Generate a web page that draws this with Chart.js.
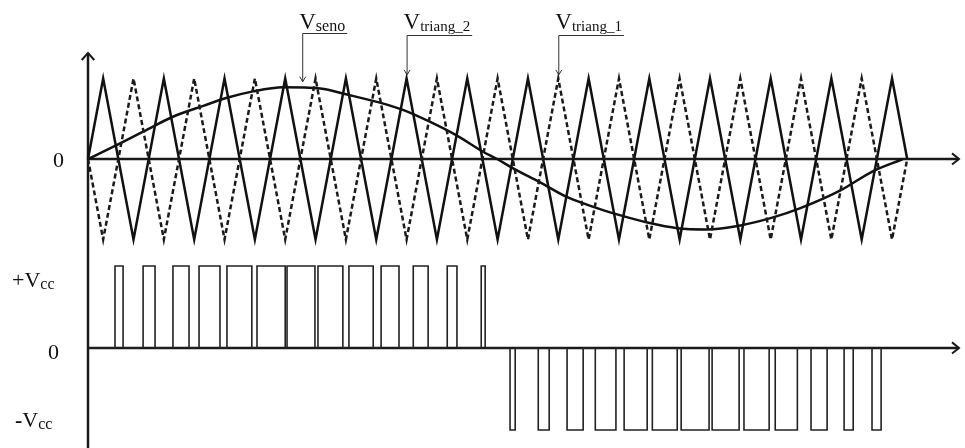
<!DOCTYPE html>
<html>
<head>
<meta charset="utf-8">
<script src="https://cdn.jsdelivr.net/npm/chart.js@4/dist/chart.umd.min.js"></script>
<style>
  html, body { margin: 0; padding: 0; background: #fff; }
  canvas { display: block; }
</style>
</head>
<body>
<canvas id="pwm" width="965" height="448"></canvas>
<script>
// Time axis is measured in carrier periods.

// Carrier vertices (both carriers share the same time instants)
const carrierT = [0, 0.25, 0.75, 1.25, 1.75, 2.25, 2.75, 3.25, 3.75, 4.25, 4.75, 5.25, 5.75, 6.25, 6.75,
                  7.25, 7.75, 8.25, 8.75, 9.25, 9.75, 10.25, 10.75, 11.25, 11.75, 12.25, 12.75, 13.25, 13.5];
// V_triang_2 (solid carrier)
const triang2 = [0, 1, -1, 1, -1, 1, -1, 1, -1, 1, -1, 1, -1, 1, -1,
                 1, -1, 1, -1, 1, -1, 1, -1, 1, -1, 1, -1, 1, 0];
// V_triang_1 (dotted carrier, opposite phase)
const triang1 = [0, -1, 1, -1, 1, -1, 1, -1, 1, -1, 1, -1, 1, -1, 1,
                 -1, 1, -1, 1, -1, 1, -1, 1, -1, 1, -1, 1, -1, 0];

// V_seno (reference wave)
const sineT = [0, 0.48, 0.91, 1.40, 1.90, 2.29, 2.72, 3.22, 3.83, 4.27, 4.81, 5.19, 5.64, 6.08, 6.51,
               6.74, 6.99, 7.45, 7.90, 8.39, 8.82, 9.22, 9.71, 10.20, 10.75, 11.29, 11.74, 12.40, 12.94, 13.43];
const sineV = [0, 0.175, 0.34, 0.525, 0.66, 0.76, 0.84, 0.89, 0.875, 0.80, 0.70, 0.61, 0.46, 0.29, 0.09,
               0, -0.11, -0.29, -0.475, -0.61, -0.71, -0.79, -0.86, -0.875, -0.825, -0.725, -0.61, -0.39, -0.15, 0];

// Output pulses: switching instants
const posOn  = [0.445, 0.908, 1.40, 1.83, 2.29, 2.785, 3.28, 3.79, 4.30, 4.83, 5.36, 5.92, 6.48];
const posOff = [0.578, 1.105, 1.665, 2.175, 2.70, 3.25, 3.74, 4.20, 4.70, 5.125, 5.605, 6.08, 6.545];
const negOn  = [6.955, 7.42, 7.895, 8.36, 8.835, 9.30, 9.775, 10.285, 10.81, 11.325, 11.915, 12.46, 12.92];
const negOff = [7.04, 7.60, 8.16, 8.70, 9.215, 9.71, 10.235, 10.73, 11.225, 11.69, 12.18, 12.61, 13.07];
const VCC = 1;

// Left-hand level labels
const topLevels = [{ value: 0, sign: '', main: '0', sub: '' }];
const botLevels = [
  { value: VCC,  sign: '+', main: 'V', sub: 'cc' },
  { value: 0,    sign: '',  main: '0', sub: '' },
  { value: -VCC, sign: '-', main: 'V', sub: 'cc' }
];

// Callouts above the waveforms
const callouts = [
  { main: 'V', sub: 'seno',     t: 3.53, tip: 0.96 },
  { main: 'V', sub: 'triang_2', t: 5.25, tip: 1.045 },
  { main: 'V', sub: 'triang_1', t: 7.75, tip: 1.045 }
];

const zip = (xs, ys) => xs.map((x, i) => ({ x, y: ys[i] }));

function pulseTrain() {
  const pts = [{ x: 0, y: 0 }];
  posOn.forEach((t, i) => {
    pts.push({ x: t, y: 0 }, { x: t, y: VCC }, { x: posOff[i], y: VCC }, { x: posOff[i], y: 0 });
  });
  negOn.forEach((t, i) => {
    pts.push({ x: t, y: 0 }, { x: t, y: -VCC }, { x: negOff[i], y: -VCC }, { x: negOff[i], y: 0 });
  });
  return pts;
}

const SERIF = '"Liberation Serif", "Times New Roman", serif';

// Draws [sign]main_sub; returns total width
function drawSubText(ctx, sign, main, sub, x, baseline, mainSize, subSize, drop, align) {
  ctx.font = 'bold ' + mainSize + 'px ' + SERIF;
  const wSign = sign === '-' ? ctx.measureText(sign).width : 0;
  ctx.font = mainSize + 'px ' + SERIF;
  const wPlus = sign === '+' ? ctx.measureText(sign).width : 0;
  const wMain = ctx.measureText(main).width;
  ctx.font = subSize + 'px ' + SERIF;
  const wSub = sub ? ctx.measureText(sub).width : 0;
  const total = wSign + wPlus + wMain + wSub;
  let left = align === 'right' ? x - total : x;
  ctx.textAlign = 'left';
  ctx.textBaseline = 'alphabetic';
  if (sign === '-') {
    ctx.font = 'bold ' + mainSize + 'px ' + SERIF;
    ctx.fillText(sign, left, baseline);
    left += wSign;
  } else if (sign === '+') {
    ctx.font = mainSize + 'px ' + SERIF;
    ctx.fillText(sign, left, baseline);
    left += wPlus;
  }
  ctx.font = mainSize + 'px ' + SERIF;
  ctx.fillText(main, left, baseline);
  if (sub) {
    ctx.font = subSize + 'px ' + SERIF;
    ctx.fillText(sub, left + wMain, baseline + drop);
  }
  return total;
}

function arrowHead(ctx, x, y, dir, size) {
  ctx.beginPath();
  if (dir === 'up') {
    ctx.moveTo(x - size * 0.9, y + size); ctx.lineTo(x, y); ctx.lineTo(x + size * 0.9, y + size);
  } else if (dir === 'down') {
    ctx.moveTo(x - size * 0.6, y - size); ctx.lineTo(x, y); ctx.lineTo(x + size * 0.6, y - size);
  } else {
    ctx.moveTo(x - size, y - size * 0.8); ctx.lineTo(x, y); ctx.lineTo(x - size, y + size * 0.8);
  }
  ctx.stroke();
}

const axesPlugin = {
  id: 'pwmAxes',
  beforeDatasetsDraw(chart) {
    const { ctx, scales } = chart;
    const x0 = scales.x.getPixelForValue(0);
    const xEnd = scales.x.right - 1;
    const yTop0 = scales.yTop.getPixelForValue(0);
    const yBot0 = scales.yBot.getPixelForValue(0);
    ctx.save();
    ctx.strokeStyle = '#1a1a1a';
    ctx.lineWidth = 2.5;
    ctx.lineCap = 'butt';
    // vertical axis
    ctx.beginPath();
    ctx.moveTo(x0, 53); ctx.lineTo(x0, chart.height);
    ctx.stroke();
    // horizontal axes
    [yTop0, yBot0].forEach(y => {
      ctx.beginPath(); ctx.moveTo(x0, y); ctx.lineTo(xEnd, y); ctx.stroke();
    });
    ctx.lineWidth = 2;
    ctx.lineJoin = 'miter';
    arrowHead(ctx, x0, 53, 'up', 7);
    arrowHead(ctx, xEnd, yTop0, 'right', 7);
    arrowHead(ctx, xEnd, yBot0, 'right', 7);
    ctx.restore();
  },
  afterDraw(chart) {
    const { ctx, scales } = chart;
    ctx.save();
    ctx.fillStyle = '#111';
    // level labels
    topLevels.forEach(l => {
      const y = scales.yTop.getPixelForValue(l.value);
      drawSubText(ctx, l.sign, l.main, l.sub, 64, y + 8, 22, 16, 2, 'right');
    });
    botLevels.forEach(l => {
      const y = scales.yBot.getPixelForValue(l.value);
      const base = l.value === 0 ? y + 11 : (l.value > 0 ? y + 21 : y - 3);
      const x = l.value === 0 ? 59 : (l.value > 0 ? 12 : 15);
      drawSubText(ctx, l.sign, l.main, l.sub, x, base, 22, 16, 2, l.value === 0 ? 'right' : 'left');
    });
    // callouts
    callouts.forEach(c => {
      const x = scales.x.getPixelForValue(c.t);
      const tipY = scales.yTop.getPixelForValue(c.tip);
      const lineY = c.sub === 'seno' ? 33 : 35;
      ctx.fillStyle = '#111';
      const w = drawSubText(ctx, '', c.main, c.sub, x - 3, 29, 23, c.sub === 'seno' ? 16 : 15, 2, 'left');
      ctx.strokeStyle = '#333';
      ctx.lineWidth = 1;
      ctx.beginPath();
      ctx.moveTo(x + 0.5, tipY); ctx.lineTo(x + 0.5, lineY + 0.5); ctx.lineTo(x - 3 + w + 2, lineY + 0.5);
      ctx.stroke();
      arrowHead(ctx, x + 0.5, tipY, 'down', 5);
    });
    ctx.restore();
  }
};

new Chart(document.getElementById('pwm'), {
  type: 'line',
  data: {
    datasets: [
      {
        label: 'V_triang_1',
        data: zip(carrierT, triang1),
        yAxisID: 'yTop',
        borderColor: '#1a1a1a',
        borderWidth: 2.5,
        borderDash: [5, 3],
        tension: 0,
        pointRadius: 0,
        clip: false
      },
      {
        label: 'V_triang_2',
        data: zip(carrierT, triang2),
        yAxisID: 'yTop',
        borderColor: '#111',
        borderWidth: 2.5,
        tension: 0,
        pointRadius: 0,
        clip: false
      },
      {
        label: 'V_seno',
        data: zip(sineT, sineV),
        yAxisID: 'yTop',
        borderColor: '#111',
        borderWidth: 2.5,
        cubicInterpolationMode: 'monotone',
        pointRadius: 0,
        clip: false
      },
      {
        label: 'V_out',
        data: pulseTrain(),
        yAxisID: 'yBot',
        borderColor: '#222',
        borderWidth: 1.6,
        tension: 0,
        pointRadius: 0,
        clip: false
      }
    ]
  },
  options: {
    responsive: false,
    animation: false,
    devicePixelRatio: 1,
    events: [],
    layout: { padding: { left: 88, right: 5, top: 0, bottom: 0 } },
    plugins: { legend: { display: false }, tooltip: { enabled: false } },
    scales: {
      x: { type: 'linear', min: 0, max: 14.37, display: false },
      yTop: { type: 'linear', min: -3.59, max: 1.975, display: false },
      yBot: { type: 'linear', min: -1.22, max: 4.244, display: false }
    }
  },
  plugins: [axesPlugin]
});
</script>
</body>
</html>
